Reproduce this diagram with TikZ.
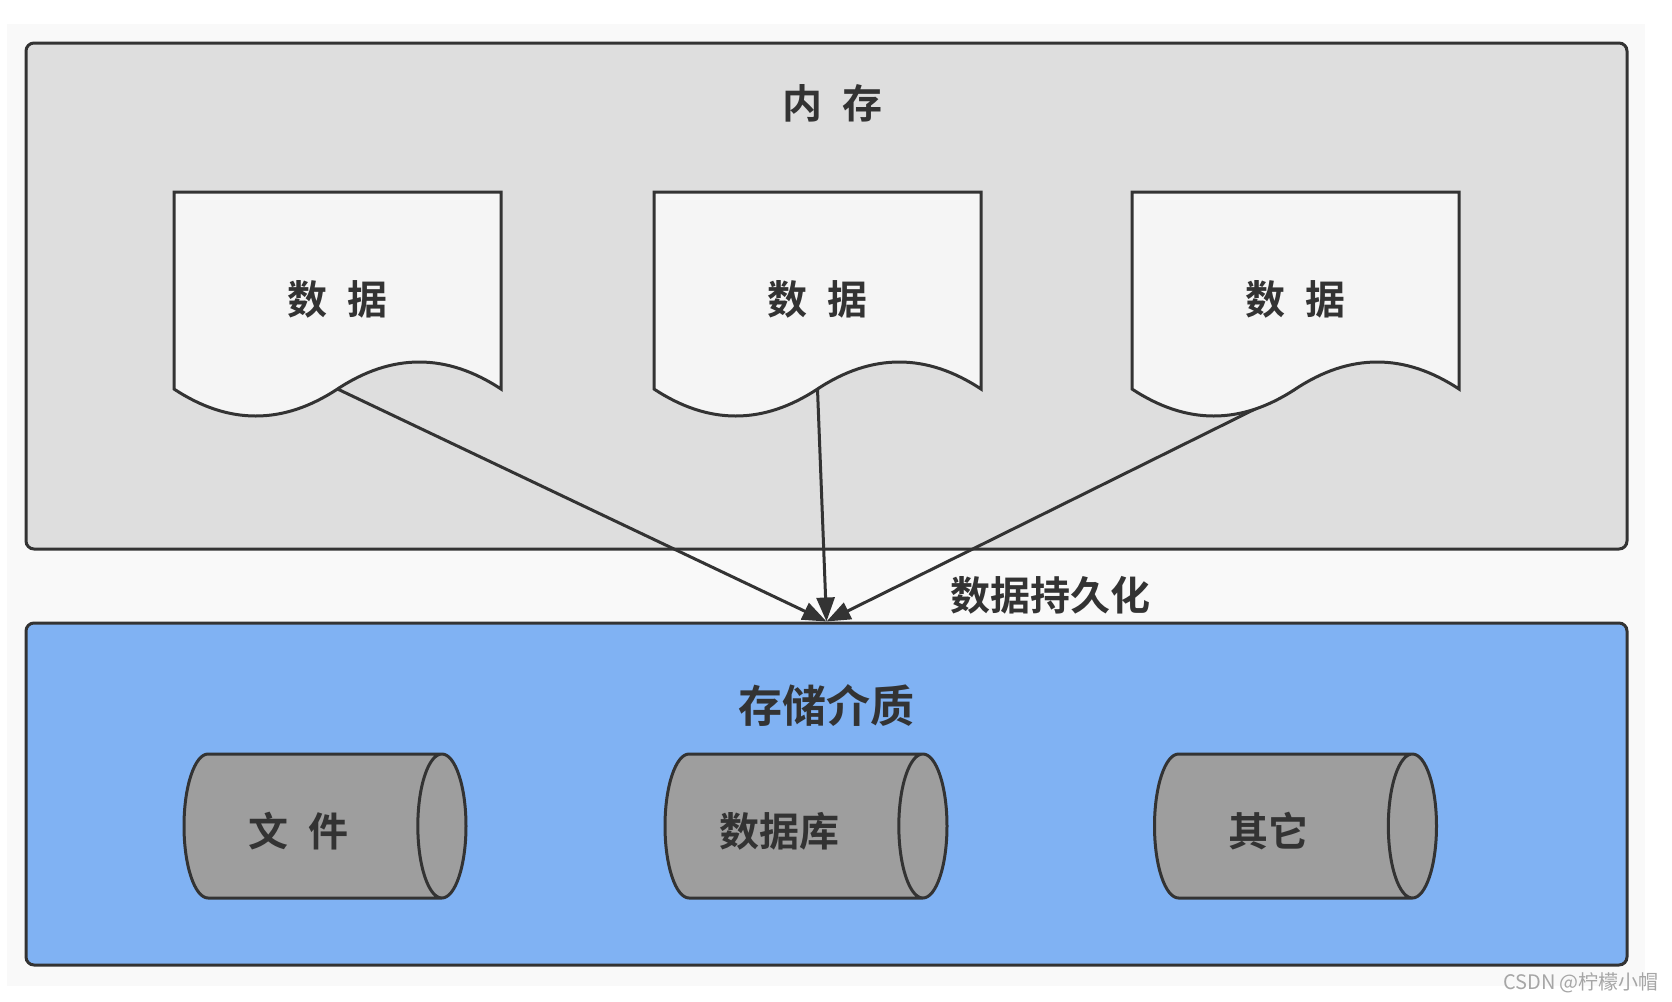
\documentclass[tikz,border=0pt]{standalone}
\usepackage{fontspec}
\usepackage{tikz}
\usetikzlibrary{positioning, shapes.geometric, arrows.meta}
\newfontfamily\cjk{Noto Sans CJK SC}
\newfontfamily\cjkbf{Noto Sans CJK SC Bold}
\definecolor{ink}{HTML}{333333}
\definecolor{paper}{HTML}{F9F9F9}
\definecolor{memgray}{HTML}{DEDEDE}
\definecolor{docwhite}{HTML}{F5F5F5}
\definecolor{storeblue}{HTML}{80B2F3}
\definecolor{cylgray}{HTML}{9E9E9E}
\definecolor{markgray}{HTML}{A6A6A6}
\tikzset{
  boxline/.style={draw=ink, line width=1.5pt, rounded corners=4pt},
  docline/.style={draw=ink, line width=1.5pt, fill=docwhite},
  cyl/.style={cylinder, draw=ink, line width=1.5pt, fill=cylgray, shape aspect=0.94,
    minimum width=72pt, minimum height=141pt, anchor=shape center,
    font=\cjkbf\fontsize{20}{24}\selectfont},
  lbl/.style={text=ink, font=\cjkbf\fontsize{20}{24}\selectfont},
}
% page with a wavy bottom edge: #1 = left x, #2 = name of the wave middle
\newcommand{\DocPage}[2]{%
  \draw[docline] (#1,192) -- ++(327,0) -- ++(0,197)
    .. controls +(-54.5,-36) and +(54.5,-36) .. ++(-163.5,0) coordinate (#2)
    .. controls +(-54.5,36) and +(54.5,36) .. ++(-163.5,0) -- cycle;
}

\begin{document}
\begin{tikzpicture}[x=0.5pt, y=-0.5pt, >={Triangle[length=12pt, width=9pt]}]

\useasboundingbox (0,0) rectangle (1672,1002);
\fill[white] (0,0) rectangle (1672,1002);
\fill[paper] (7,24) rectangle (1645,986);

% memory and storage
\node[boxline, fill=memgray, minimum width=800.5pt, minimum height=253pt] (mem) at (826.5,296) {};
\node[boxline, fill=storeblue, minimum width=800.5pt, minimum height=171pt] (store) at (826.5,794) {};
\draw(832,103) node[lbl] (memtitle) {内\enspace 存};
\draw(826,706) node[lbl, font=\cjkbf\fontsize{22}{26}\selectfont] (storetitle) {存储介质};

% persistence arrows
\coordinate (P1) at (337.5,389);
\coordinate (P2) at (817.5,389);
\coordinate (P3) at (1295.5,389);
\draw[->, ink, line width=1.5pt] (P1) -- (store.north);
\draw[->, ink, line width=1.5pt] (P2) -- (store.north);
\draw[->, ink, line width=1.5pt] (P3) -- (store.north);
\draw(1050,595) node[lbl] (persist) {数据持久化};

% data pages
\DocPage{174}{D1}
\DocPage{654}{D2}
\DocPage{1132}{D3}
\draw(337.5,299) node[lbl] (d1) {数\enspace 据};
\draw(817.5,299) node[lbl] (d2) {数\enspace 据};
\draw(1295.5,299) node[lbl] (d3) {数\enspace 据};

% storage kinds
\node[cyl] (file) at (325,826) {\vphantom{文}};
\node[cyl] (db) at (806,826) {\vphantom{文}};
\node[cyl] (other) at (1295.5,826) {\vphantom{文}};
\node[lbl] (filetxt) at ([xshift=-13.3pt, yshift=-2.4pt]file.shape center) {文\enspace 件};
\node[lbl] (dbtxt) at ([xshift=-13.3pt, yshift=-2.4pt]db.shape center) {数据库};
\node[lbl] (othertxt) at ([xshift=-13.3pt, yshift=-2.4pt]other.shape center) {其它};

\draw(1581,983) node[text=markgray, font=\cjk\fontsize{10}{12}\selectfont] (mark) {CSDN @柠檬小帽};

\end{tikzpicture}
\end{document}
